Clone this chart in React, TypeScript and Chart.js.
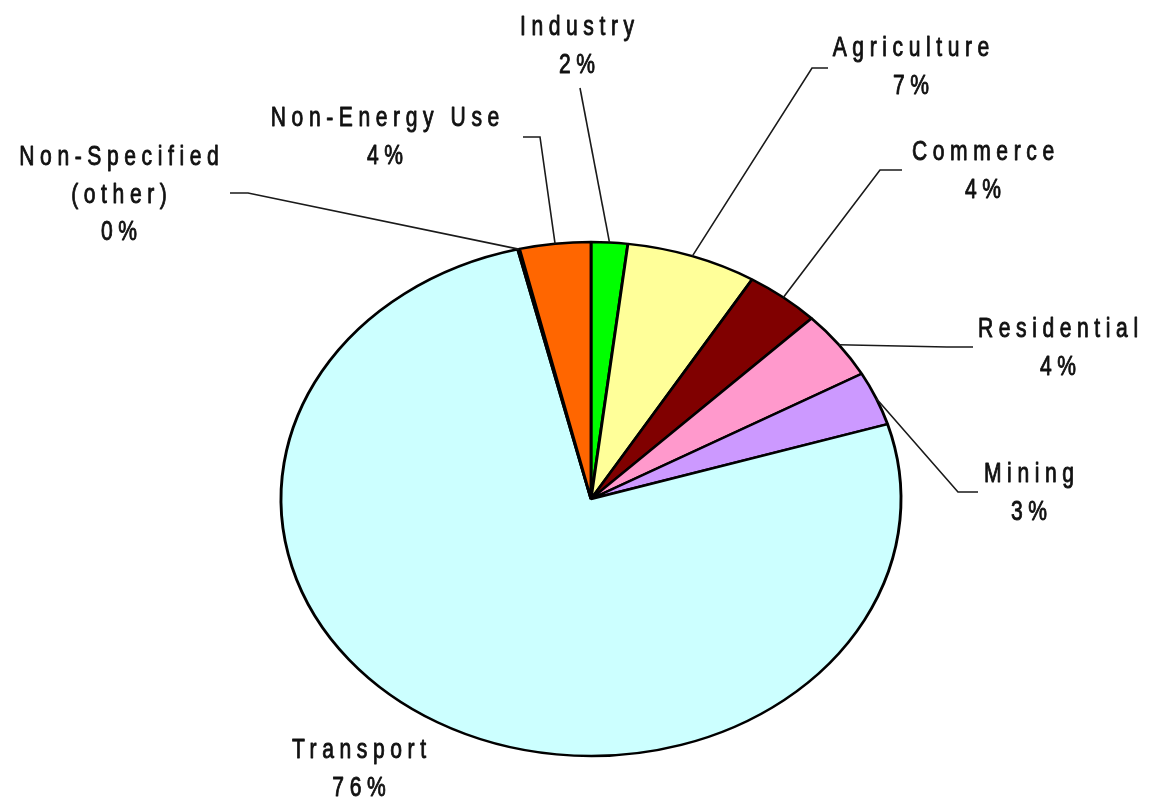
import React, { useEffect, useRef } from "react";
import { Chart, registerables } from "chart.js";

Chart.register(...registerables);

// ---- data ----
const categories = [
  "Industry",
  "Agriculture",
  "Commerce",
  "Residential",
  "Mining",
  "Transport",
  "Non-Specified (other)",
  "Non-Energy Use",
];
const shares = [1.9, 6.8, 3.9, 4.3, 3.4, 75.9, 0.1, 3.7];
const percentLabels = ["2%", "7%", "4%", "4%", "3%", "76%", "0%", "4%"];
const nameLines = [
  ["Industry"],
  ["Agriculture"],
  ["Commerce"],
  ["Residential"],
  ["Mining"],
  ["Transport"],
  ["Non-Specified", "(other)"],
  ["Non-Energy Use"],
];
const sliceColors = [
  "#00FF00",
  "#FFFF99",
  "#800000",
  "#FF99CC",
  "#CC99FF",
  "#CCFFFF",
  "#9999FF",
  "#FF6600",
];

// ---- layout (label positions / leader elbows) ----
type LabelLayout = {
  cx: number;
  y: number;
  start?: [number, number];
  elbow?: [number, number];
};
const labelLayout: LabelLayout[] = [
  { cx: 577, y: 35, start: [580, 88] },
  { cx: 911, y: 56, start: [828, 68], elbow: [812, 68] },
  { cx: 983, y: 160, start: [902, 170], elbow: [880, 170] },
  { cx: 1058, y: 337, start: [973, 347], elbow: [947, 347] },
  { cx: 1029, y: 482, start: [978, 492], elbow: [958, 492] },
  { cx: 359, y: 758 },
  { cx: 119, y: 165, start: [230, 193], elbow: [248, 193] },
  { cx: 385, y: 126, start: [523, 137], elbow: [540, 137] },
];

const X_STRETCH = 310 / 257;
const LINE_GAP = 37.5;
const FONT_PX = 27;
const H_SCALE = 0.78;
const LETTER_SP = 5.6;

export default function App() {
  const ref = useRef<HTMLCanvasElement | null>(null);

  useEffect(() => {
    if (!ref.current) return;

    const ellipsePlugin = {
      id: "ellipse",
      beforeDatasetsDraw(chart: any) {
        const el = chart.getDatasetMeta(0).data[0] as any;
        const ctx = chart.ctx;
        ctx.save();
        ctx.translate(el.x, el.y);
        ctx.scale(X_STRETCH, 1);
        ctx.translate(-el.x, -el.y);
      },
      afterDatasetsDraw(chart: any) {
        chart.ctx.restore();
      },
    };

    const labelPlugin = {
      id: "labels",
      afterDraw(chart: any) {
        const ctx: CanvasRenderingContext2D = chart.ctx;
        const arcs = chart.getDatasetMeta(0).data as any[];
        // leader lines
        ctx.save();
        ctx.strokeStyle = "#1a1a1a";
        ctx.lineWidth = 1.6;
        arcs.forEach((el, i) => {
          const lay = labelLayout[i];
          if (!lay.start) return;
          const a = (el.startAngle + el.endAngle) / 2;
          const ex = el.x + el.outerRadius * Math.cos(a) * X_STRETCH;
          const ey = el.y + el.outerRadius * Math.sin(a);
          ctx.beginPath();
          ctx.moveTo(lay.start[0], lay.start[1]);
          if (lay.elbow) ctx.lineTo(lay.elbow[0], lay.elbow[1]);
          ctx.lineTo(ex, ey);
          ctx.stroke();
        });
        ctx.restore();
        // texts
        categories.forEach((_, i) => {
          const lay = labelLayout[i];
          const lines = [...nameLines[i], percentLabels[i]];
          lines.forEach((t, k) => {
            ctx.save();
            ctx.translate(lay.cx + LETTER_SP / 2, lay.y + k * LINE_GAP);
            ctx.scale(H_SCALE, 1);
            (ctx as any).letterSpacing = LETTER_SP / H_SCALE + "px";
            ctx.font = `${FONT_PX}px "Liberation Sans", Arial, sans-serif`;
            ctx.fillStyle = "#111";
            ctx.strokeStyle = "#111";
            ctx.lineWidth = 0.9;
            ctx.lineJoin = "round";
            ctx.textAlign = "center";
            ctx.textBaseline = "alphabetic";
            ctx.fillText(t, 0, 0);
            ctx.strokeText(t, 0, 0);
            ctx.restore();
          });
        });
      },
    };

    const chart = new Chart(ref.current, {
      type: "pie",
      data: {
        labels: categories,
        datasets: [
          {
            data: shares,
            backgroundColor: sliceColors,
            borderColor: "#000",
            borderWidth: 2.4,
          },
        ],
      },
      options: {
        responsive: false,
        animation: false,
        radius: 257,
        layout: { padding: { top: 250, bottom: 52, left: 100, right: 68 } },
        plugins: {
          legend: { display: false },
          tooltip: { enabled: false },
        },
      } as any,
      plugins: [ellipsePlugin, labelPlugin],
    });
    return () => chart.destroy();
  }, []);

  return (
    <div style={{ position: "fixed", left: 0, top: 0, width: 1150, height: 800, background: "#fff" }}>
      <canvas ref={ref} width={1150} height={800} style={{ display: "block" }} />
    </div>
  );
}
